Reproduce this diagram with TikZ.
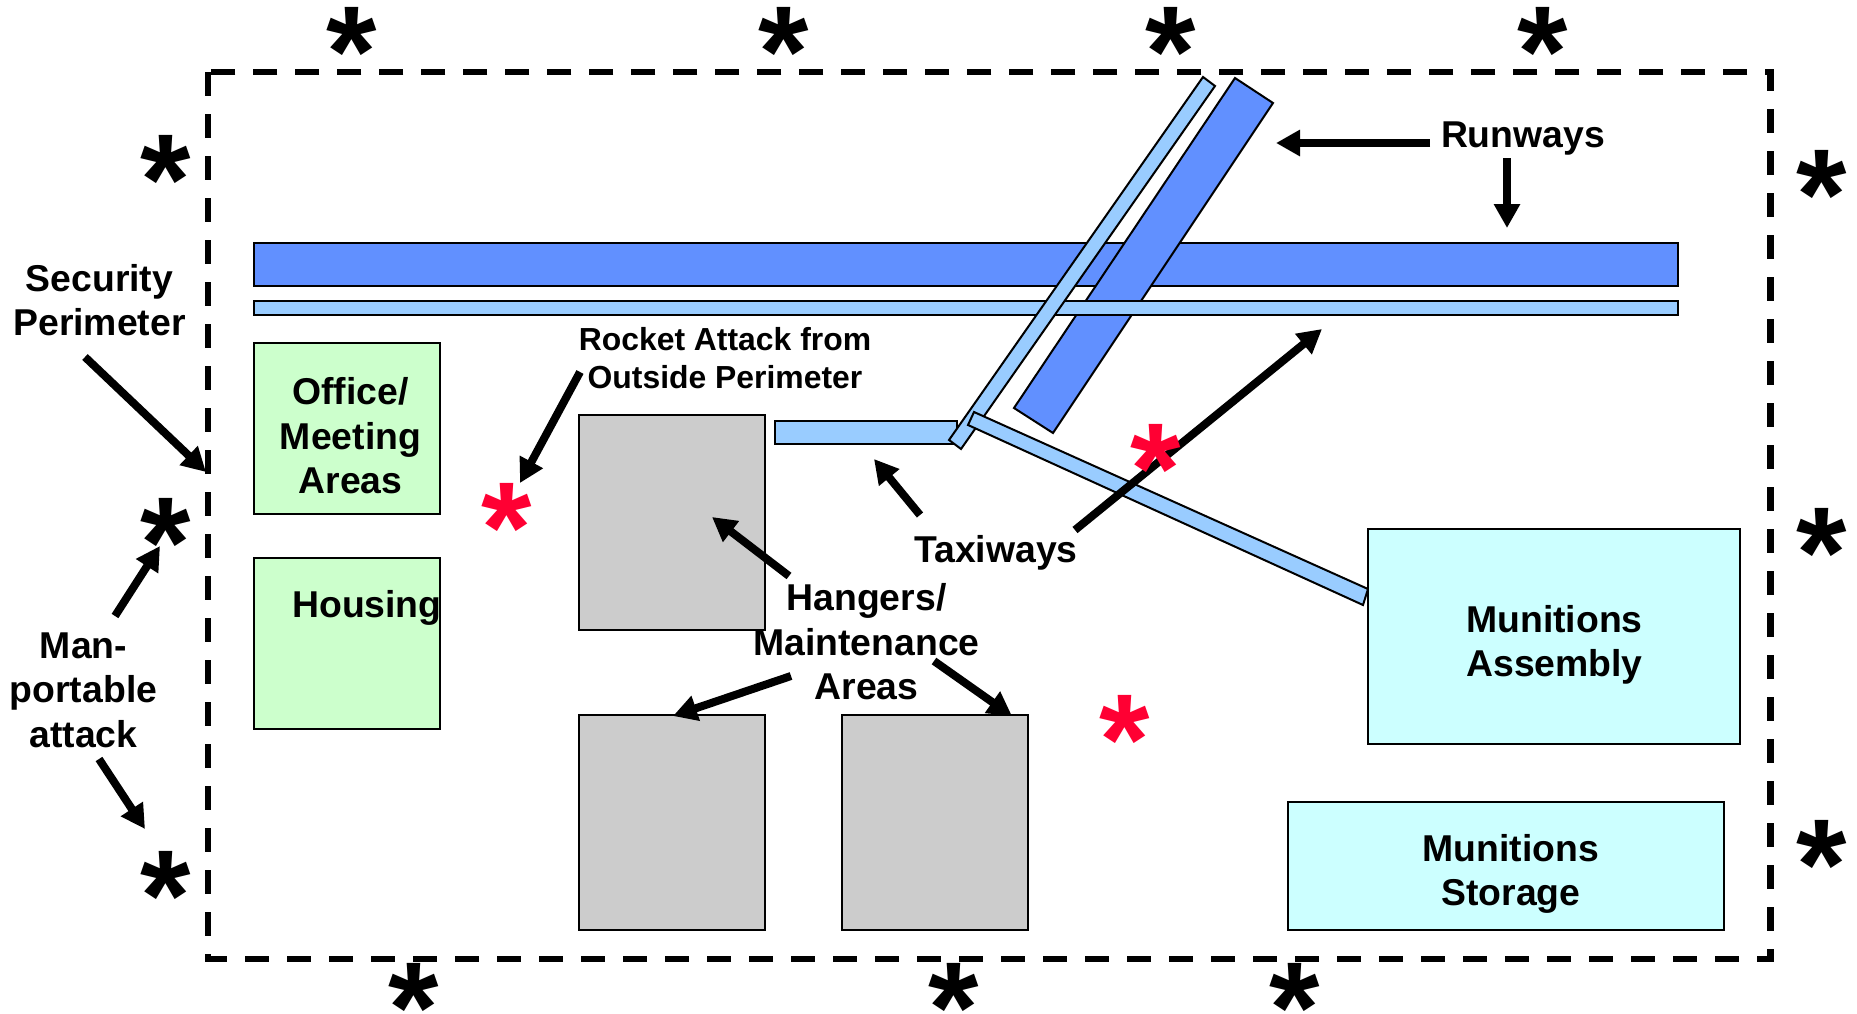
\documentclass[tikz,border=0pt]{standalone}
\usepackage{fontspec}
\setmainfont{Liberation Sans}
\usetikzlibrary{arrows.meta}
\definecolor{runway}{HTML}{6190FF}
\definecolor{taxi}{HTML}{99CCFF}
\definecolor{greenbox}{HTML}{CCFFCC}
\definecolor{cyanbox}{HTML}{CCFFFF}
\definecolor{hangar}{HTML}{CCCCCC}
\definecolor{redstar}{HTML}{FF0033}
\tikzset{
  x=1bp,y=-1bp,
  area/.style={draw=black,line width=2bp,inner sep=0pt,outer sep=0pt,anchor=north west},
  strip/.style={draw=black,line width=2bp,line join=miter},
  perim/.style={draw=black,line width=6.8bp,dash pattern=on 24bp off 18bp,line join=miter},
  pointer/.style={draw=black,line width=8bp,-{Triangle[length=24bp,width=25bp]}},
  lab/.style={font=\bfseries\fontsize{37.5}{44.6}\selectfont,align=center,inner sep=0pt},
  smalllab/.style={font=\bfseries\fontsize{32}{37.7}\selectfont,align=center,inner sep=0pt},
  astk/.style={font=\bfseries\fontsize{130}{130}\selectfont,anchor=base,inner sep=0pt},
}
\begin{document}
\begin{tikzpicture}
\useasboundingbox (0,0) rectangle (1857,1013);
% perimeter
\coordinate (pa) at (208,72);
\coordinate (pb) at (208,959);
\coordinate (pc) at (1770.7,959);
\coordinate (pd) at (1770.7,72);
\draw[perim] (pa) -- (pb) -- (pc) -- (pd) -- cycle;
% runways and taxiways
\node[area,fill=runway,minimum width=1424bp,minimum height=43bp] (rw1) at (254,243) {};
\draw[strip,fill=runway] (1235,78) -- (1273,103) -- (1053,433) -- (1014,408) -- cycle;
\node[area,fill=taxi,minimum width=1424bp,minimum height=14bp] (tw1) at (254,300.5) {};
\node[area,fill=taxi,minimum width=182bp,minimum height=23bp] (tw2) at (775,421) {};
\draw[strip,fill=taxi] (1203,77) -- (1215,86) -- (961,449) -- (949,440) -- cycle;
\draw[strip,fill=taxi] (974,412) -- (968,425) -- (1363,605) -- (1368,589) -- cycle;
% areas
\node[area,fill=greenbox,minimum width=186bp,minimum height=171bp] (office) at (254,343) {};
\node[area,fill=greenbox,minimum width=186bp,minimum height=171bp] (housing) at (254,558) {};
\node[area,fill=hangar,minimum width=186bp,minimum height=214.5bp] (h1) at (579,415) {};
\node[area,fill=hangar,minimum width=186bp,minimum height=214.5bp] (h2) at (579,715) {};
\node[area,fill=hangar,minimum width=186bp,minimum height=214.5bp] (h3) at (842,715) {};
\node[area,fill=cyanbox,minimum width=372bp,minimum height=214.5bp] (assembly) at (1368,529) {};
\node[area,fill=cyanbox,minimum width=436bp,minimum height=128bp] (storage) at (1288,801.5) {};
% labels
\node[lab] (lsec) at (99.5,300) {Security\\Perimeter};
\node[lab] (lman) at (83.5,690) {Man-\\portable\\attack};
\node[lab] (loff) at (350.5,436) {Office/\\Meeting\\Areas};
\node[lab,anchor=west] (lhou) at (292,608) {Housing};
\node[smalllab] (lroc) at (725,358) {Rocket Attack from\\Outside Perimeter};
\node[lab] (ltax) at (996,552.5) {Taxiways};
\node[lab] (lhan) at (866.5,642) {Hangers/\\Maintenance\\Areas};
\node[lab] (lrun) at (1523,139) {Runways};
\node[lab] (lass) at (1554.5,645) {Munitions\\Assembly};
\node[lab] (lsto) at (1511,874) {Munitions\\Storage};
% arrow ends
\coordinate (s1) at (85,357);   \coordinate (e1) at (206,472);
\coordinate (s2) at (115,616);  \coordinate (e2) at (160,546);
\coordinate (s3) at (99,759);   \coordinate (e3) at (145,829);
\coordinate (s4) at (580,372);  \coordinate (e4) at (520,483);
\coordinate (s5) at (920,515);  \coordinate (e5) at (874,459);
\coordinate (s6) at (789,576);  \coordinate (e6) at (712,517);
\coordinate (s7) at (791,676);  \coordinate (e7) at (673,716);
\coordinate (s8) at (934,661);  \coordinate (e8) at (1012,716);
\coordinate (s9) at (1075,530); \coordinate (e9) at (1322,329);
\coordinate (s10) at (1430,143);\coordinate (e10) at (1276,143);
\coordinate (s11) at (1507,158);\coordinate (e11) at (1507,228);
\foreach \i in {1,...,11} \draw[pointer] (s\i) -- (e\i);
% attack markers
\foreach \nm/\px/\py in {a/351/31,b/783/31,c/1170/31,d/1542/31,e/165/159,f/165/522,g/165/875.5,h/1821/174,i/1821/532,j/1821/844,k/413/987,l/953/987,m/1294/987}
  \node[astk] (st\nm) at (\px+0.5,\py+65) {*};
\foreach \nm/\px/\py in {a/506/507,b/1155/448,c/1124/719}
  \node[astk,text=redstar] (red\nm) at (\px+0.5,\py+65) {*};
\end{tikzpicture}
\end{document}
